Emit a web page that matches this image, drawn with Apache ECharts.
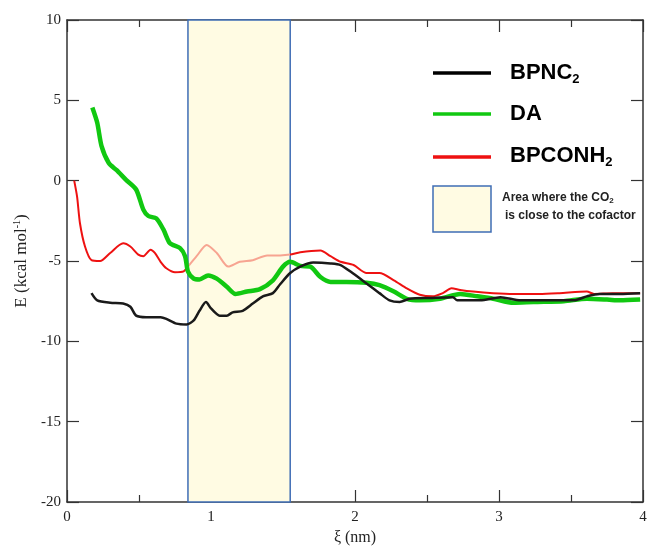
<!DOCTYPE html>
<html><head><meta charset="utf-8">
<script src="https://cdn.jsdelivr.net/npm/echarts@6/dist/echarts.min.js"></script>
<style>html,body{margin:0;padding:0;background:#fff}#c{width:649px;height:547px}</style>
</head><body><div id="c"></div>
<script>
// ---- data ----
const xTicks = [0, 1, 2, 3, 4];
const yTicks = [-20, -15, -10, -5, 0, 5, 10];
const areaStart = 0.84, areaEnd = 1.55;

const bpnc2Xi = [0.17,0.21,0.30,0.39,0.44,0.48,0.55,0.65,0.69,0.76,0.83,0.88,0.92,0.965,1.0,1.06,1.11,1.15,1.22,1.29,1.36,1.43,1.48,1.55,1.62,1.71,1.83,1.90,1.99,2.08,2.17,2.24,2.31,2.38,2.52,2.68,2.71,2.87,3.01,3.15,3.33,3.52,3.61,3.70,3.84,3.98];
const bpnc2E  = [-7.0,-7.45,-7.6,-7.65,-7.85,-8.4,-8.5,-8.5,-8.6,-8.9,-8.95,-8.7,-8.1,-7.55,-7.95,-8.4,-8.4,-8.2,-8.1,-7.65,-7.2,-7.0,-6.45,-5.75,-5.35,-5.1,-5.15,-5.25,-5.8,-6.4,-7.0,-7.45,-7.55,-7.35,-7.3,-7.25,-7.45,-7.45,-7.25,-7.45,-7.45,-7.45,-7.2,-7.05,-7.05,-7.0];

const daXi = [0.176,0.21,0.24,0.29,0.345,0.41,0.48,0.53,0.565,0.62,0.67,0.715,0.785,0.82,0.84,0.88,0.92,0.98,1.04,1.11,1.17,1.25,1.34,1.43,1.50,1.55,1.62,1.69,1.76,1.83,1.94,2.08,2.17,2.27,2.36,2.45,2.59,2.73,2.85,2.96,3.10,3.24,3.45,3.61,3.75,3.84,3.98];
const daE  = [4.55,3.6,2.15,1.1,0.65,0.05,-0.55,-1.8,-2.2,-2.35,-3.05,-3.9,-4.2,-4.7,-5.65,-6.1,-6.15,-5.9,-6.1,-6.6,-7.05,-6.9,-6.75,-6.2,-5.35,-5.05,-5.3,-5.35,-6.0,-6.3,-6.3,-6.35,-6.5,-6.9,-7.35,-7.45,-7.35,-7.05,-7.2,-7.35,-7.6,-7.55,-7.5,-7.35,-7.4,-7.45,-7.4];

const conhXi = [0.05,0.07,0.09,0.125,0.17,0.23,0.30,0.39,0.44,0.495,0.53,0.58,0.61,0.65,0.69,0.75,0.81,0.84,0.90,0.97,1.04,1.12,1.20,1.29,1.39,1.48,1.55,1.62,1.76,1.83,1.90,1.99,2.08,2.17,2.27,2.36,2.45,2.54,2.61,2.67,2.73,2.82,2.96,3.10,3.28,3.42,3.61,3.66,3.79,3.98];
const conhE  = [0,-1.0,-2.65,-4.1,-4.95,-5.0,-4.5,-3.9,-4.1,-4.6,-4.7,-4.3,-4.5,-5.05,-5.45,-5.7,-5.65,-5.35,-4.7,-4.0,-4.5,-5.35,-5.05,-4.95,-4.65,-4.65,-4.6,-4.45,-4.35,-4.7,-5.05,-5.25,-5.75,-5.75,-6.2,-6.7,-7.1,-7.2,-7.0,-6.7,-6.8,-6.9,-7.0,-7.05,-7.05,-7.0,-6.9,-7.05,-7.0,-7.0];

const zip = (a, b) => a.map((v, i) => [v, b[i]]);

const chart = echarts.init(document.getElementById('c'));
const axisCol = '#333';
const serif = 'Liberation Serif';
const sans = 'Liberation Sans';

const xBase = {
  type: 'value', min: xTicks[0], max: xTicks[xTicks.length-1], interval: 1,
  axisLine: {show: true, onZero: false, lineStyle: {color: axisCol, width: 1.5}},
  axisTick: {show: true, inside: true, length: 12, lineStyle: {color: axisCol, width: 1.2}},
  minorTick: {show: true, splitNumber: 2, length: 7, lineStyle: {color: axisCol, width: 1.2}},
  splitLine: {show: false}
};
const yBase = {
  type: 'value', min: yTicks[0], max: yTicks[yTicks.length-1], interval: 5,
  axisLine: {show: true, onZero: false, lineStyle: {color: axisCol, width: 1.5}},
  axisTick: {show: true, inside: true, length: 12, lineStyle: {color: axisCol, width: 1.2}},
  splitLine: {show: false}
};

chart.setOption({
  animation: false,
  backgroundColor: '#fff',
  grid: {left: 67, right: 6, top: 20, bottom: 45, containLabel: false, outerBoundsMode: 'none'},
  xAxis: [
    Object.assign({}, xBase, {
      position: 'bottom',
      axisLabel: {fontFamily: serif, fontSize: 15, color: '#222', margin: 8},
      name: 'ξ (nm)', nameLocation: 'middle', nameGap: 27,
      nameTextStyle: {fontFamily: serif, fontSize: 16, color: '#222'}
    }),
    Object.assign({}, xBase, {position: 'top', axisLabel: {show: false}})
  ],
  yAxis: [
    Object.assign({}, yBase, {
      position: 'left',
      axisLabel: {fontFamily: serif, fontSize: 15, color: '#222', margin: 6},
      name: 'E (kcal mol{sup|-1})', nameLocation: 'middle', nameGap: 32,
      nameTextStyle: {fontFamily: serif, fontSize: 17, color: '#222',
        rich: {sup: {fontFamily: serif, fontSize: 10, color: '#222', verticalAlign: 'top', padding: [0,0,9,0]}}}
    }),
    Object.assign({}, yBase, {position: 'right', axisLabel: {show: false}})
  ],
  visualMap: {
    type: 'piecewise', show: false, dimension: 0, seriesIndex: 1,
    pieces: [
      {lt: areaStart, color: '#ee1111'},
      {gte: areaStart, lte: areaEnd, color: '#f7a491'},
      {gt: areaEnd, color: '#ee1111'}
    ]
  },
  series: [
    {
      type: 'line', data: [], silent: true,
      markArea: {
        silent: true,
        itemStyle: {color: '#fffbe3', borderColor: '#3f6db5', borderWidth: 1.5},
        data: [[{xAxis: areaStart}, {xAxis: areaEnd}]]
      }
    },
    {name: 'BPCONH2', type: 'line', data: zip(conhXi, conhE), showSymbol: false, smooth: 0.25,
      lineStyle: {width: 2}},
    {name: 'DA', type: 'line', data: zip(daXi, daE), showSymbol: false, smooth: 0.25,
      lineStyle: {width: 4.5, color: '#11c811'}, itemStyle: {color: '#11c811'}},
    {name: 'BPNC2', type: 'line', data: zip(bpnc2Xi, bpnc2E), showSymbol: false, smooth: 0.25,
      lineStyle: {width: 2.5, color: '#1a1a1a'}, itemStyle: {color: '#1a1a1a'}}
  ],
  graphic: [
    {type: 'line', shape: {x1: 433, y1: 73, x2: 491, y2: 73}, style: {stroke: '#000', lineWidth: 3.5}},
    {type: 'line', shape: {x1: 433, y1: 114, x2: 491, y2: 114}, style: {stroke: '#11c811', lineWidth: 3.5}},
    {type: 'line', shape: {x1: 433, y1: 157, x2: 491, y2: 157}, style: {stroke: '#ee1111', lineWidth: 3.5}},
    {type: 'text', left: 510, top: 62, style: {text: 'BPNC{sub|2}', fill: '#000',
      font: 'bold 22px "Liberation Sans"',
      rich: {sub: {fontSize: 13, fontWeight: 'bold', fontFamily: sans, padding: [12,0,0,0], fill: '#000'}}}},
    {type: 'text', left: 510, top: 103, style: {text: 'DA', fill: '#000', font: 'bold 22px "Liberation Sans"'}},
    {type: 'text', left: 510, top: 145, style: {text: 'BPCONH{sub|2}', fill: '#000',
      font: 'bold 22px "Liberation Sans"',
      rich: {sub: {fontSize: 13, fontWeight: 'bold', fontFamily: sans, padding: [12,0,0,0], fill: '#000'}}}},
    {type: 'rect', shape: {x: 433, y: 186, width: 58, height: 46}, style: {fill: '#fffbe3', stroke: '#3f6db5', lineWidth: 1.5}},
    {type: 'text', left: 502, top: 192, style: {text: 'Area where the CO{sub|2}', fill: '#222',
      font: 'bold 12px "Liberation Sans"',
      rich: {sub: {fontSize: 8, fontWeight: 'bold', fontFamily: sans, padding: [5,0,0,0], fill: '#222'}}}},
    {type: 'text', left: 505, top: 210, style: {text: 'is close to the cofactor', fill: '#222', font: 'bold 12px "Liberation Sans"'}}
  ]
});
</script></body></html>
